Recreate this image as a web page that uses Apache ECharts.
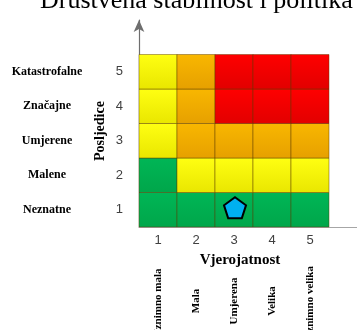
<!DOCTYPE html>
<html>
<head>
<meta charset="utf-8">
<script src="https://cdn.jsdelivr.net/npm/echarts@6/dist/echarts.min.js"></script>
<style>
  html, body { margin: 0; padding: 0; background: #fff; }
  #chart { width: 357px; height: 330px; }
</style>
</head>
<body>
<div id="chart"></div>
<script>
// Risk matrix: likelihood (x) against consequence (y)
const titleText = 'Društvena stabilnost i politika';
const tickLabels = ['1', '2', '3', '4', '5'];
const likelihoodNames = ['Iznimno mala', 'Mala', 'Umjerena', 'Velika', 'Iznimno velika'];
const consequenceNames = ['Neznatne', 'Malene', 'Umjerene', 'Značajne', 'Katastrofalne'];
// Risk level per cell, one row per consequence (1 at bottom .. 5 at top),
// one entry per likelihood 1..5. 0 = low, 1 = medium, 2 = high, 3 = extreme
const riskRow1 = [0, 0, 0, 0, 0];
const riskRow2 = [0, 1, 1, 1, 1];
const riskRow3 = [1, 2, 2, 2, 2];
const riskRow4 = [1, 2, 3, 3, 3];
const riskRow5 = [1, 2, 3, 3, 3];
// Assessed position [likelihood, consequence]
const assessed = [[3, 1]];

const riskRows = [riskRow1, riskRow2, riskRow3, riskRow4, riskRow5];
const cells = [];
riskRows.forEach(function (row, yi) {
  row.forEach(function (level, xi) {
    cells.push([xi + 1, yi + 1, level]);
  });
});

// top / bottom shade for each risk level
const levelColors = [
  ['#00b656', '#00a64a'],
  ['#ffff12', '#e9e600'],
  ['#f9b700', '#e6a000'],
  ['#ff0000', '#e20000']
];

const serif = '"Liberation Serif", "Times New Roman", serif';
const sans = '"Liberation Sans", Arial, sans-serif';

const chart = echarts.init(document.getElementById('chart'), null, { renderer: 'canvas' });

chart.setOption({
  animation: false,
  title: {
    text: titleText,
    left: 40,
    top: -12,
    padding: 0,
    textStyle: { fontFamily: serif, fontWeight: 'normal', fontSize: 26, color: '#000' }
  },
  grid: { left: 139, top: 20, width: 228, height: 207, outerBoundsMode: 'none', containLabel: false },
  xAxis: [{
    type: 'value', min: 0.5, max: 6.5,
    splitLine: { show: false },
    axisTick: { show: false },
    axisLine: { show: true, lineStyle: { color: '#a6a6a6', width: 1.2 } },
    axisLabel: {
      customValues: [1, 2, 3, 4, 5],
      formatter: function (v) { return tickLabels[Math.round(v) - 1]; },
      margin: 7, fontFamily: sans, fontSize: 13, color: '#404040'
    }
  }, {
    type: 'value', min: 0.5, max: 6.5, position: 'bottom', offset: 74,
    splitLine: { show: false },
    axisTick: { show: false },
    axisLine: { show: false },
    axisLabel: {
      customValues: [1, 2, 3, 4, 5],
      formatter: function (v) { return likelihoodNames[Math.round(v) - 1]; },
      rotate: 90, align: 'center', verticalAlign: 'middle', margin: 0,
      fontFamily: serif, fontWeight: 'bold', fontSize: 11, color: '#000'
    }
  }],
  yAxis: [{
    type: 'value', min: 0.5, max: 6.5,
    splitLine: { show: false },
    axisTick: { show: false },
    axisLine: {
      show: true, symbol: ['none', 'arrow'], symbolSize: [8, 12],
      lineStyle: { color: '#6e6e6e', width: 1.2 }
    },
    axisLabel: {
      customValues: [1, 2, 3, 4, 5],
      formatter: function (v) { return tickLabels[Math.round(v) - 1]; },
      margin: 16, fontFamily: sans, fontSize: 13, color: '#404040',
      padding: [6, 0, 0, 0]
    }
  }, {
    type: 'value', min: 0.5, max: 6.5, position: 'left', offset: 92,
    splitLine: { show: false },
    axisTick: { show: false },
    axisLine: { show: false },
    axisLabel: {
      customValues: [1, 2, 3, 4, 5],
      formatter: function (v) { return consequenceNames[Math.round(v) - 1]; },
      align: 'center', margin: 0, padding: [4, 0, 0, 0],
      fontFamily: serif, fontWeight: 'bold', fontSize: 12, color: '#000'
    }
  }],
  graphic: [{
    type: 'text',
    x: 100, y: 131, rotation: Math.PI / 2,
    style: {
      text: 'Posljedice', align: 'center', verticalAlign: 'middle',
      font: 'bold 14px ' + serif, fill: '#000'
    }
  }, {
    type: 'text',
    x: 240, y: 260,
    style: {
      text: 'Vjerojatnost', align: 'center', verticalAlign: 'middle',
      font: 'bold 15px ' + serif, fill: '#000'
    }
  }],
  series: [{
    type: 'custom',
    xAxisIndex: 0, yAxisIndex: 0,
    data: cells,
    renderItem: function (params, api) {
      const x = api.value(0), y = api.value(1), lvl = api.value(2);
      const p0 = api.coord([x - 0.5, y + 0.5]);
      const p1 = api.coord([x + 0.5, y - 0.5]);
      const c = levelColors[lvl];
      return {
        type: 'rect',
        shape: { x: p0[0], y: p0[1], width: p1[0] - p0[0], height: p1[1] - p0[1] },
        style: {
          fill: new echarts.graphic.LinearGradient(0, 0, 0, 1, [
            { offset: 0, color: c[0] }, { offset: 1, color: c[1] }
          ]),
          stroke: 'rgba(90,60,0,0.45)', lineWidth: 1
        }
      };
    },
    z: 1
  }, {
    type: 'scatter',
    xAxisIndex: 0, yAxisIndex: 0,
    data: assessed,
    symbol: 'path://M0,-1 L0.951,-0.309 L0.588,0.809 L-0.588,0.809 L-0.951,-0.309 Z',
    symbolSize: [22, 21],
    symbolOffset: [1, -2],
    itemStyle: { color: '#00b0f0', borderColor: '#000', borderWidth: 2, opacity: 1 },
    z: 5
  }]
});
</script>
</body>
</html>
